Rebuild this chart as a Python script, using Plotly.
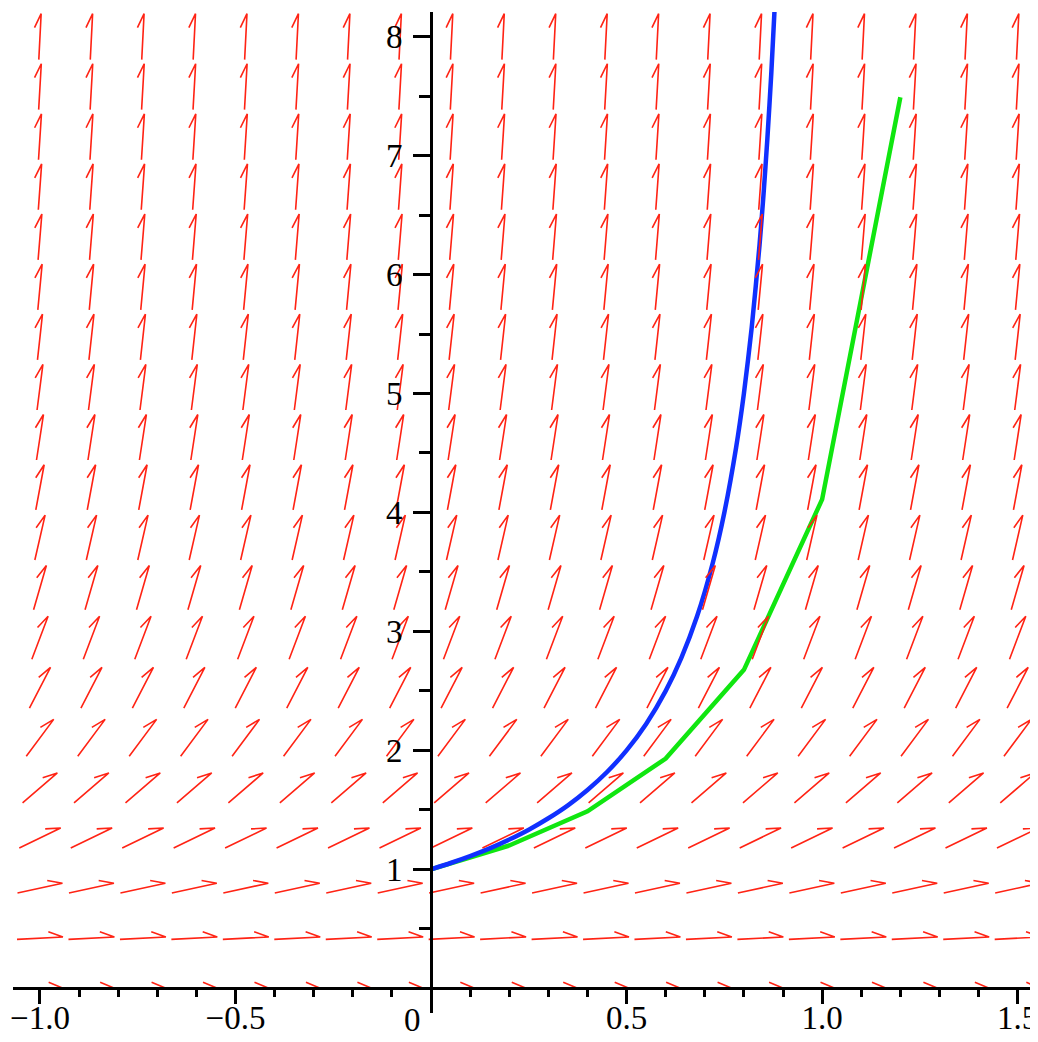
import math
import plotly.graph_objects as go

# ---------------- data ----------------
# direction-field grid (20 x 20)
field_x = [-1.0, -0.8684, -0.7368, -0.6053, -0.4737, -0.3421, -0.2105, -0.0789,
           0.0526, 0.1842, 0.3158, 0.4474, 0.5789, 0.7105, 0.8421, 0.9737,
           1.1053, 1.2368, 1.3684, 1.5]
field_y = [0.0, 0.421, 0.842, 1.263, 1.684, 2.105, 2.526, 2.947, 3.368, 3.789,
           4.211, 4.632, 5.053, 5.474, 5.895, 6.316, 6.737, 7.158, 7.579, 8.0]
# slope of the arrows in each row (dy/dx)
row_slopes = [0.0, 0.177, 0.709, 1.596, 2.837, 4.432, 6.382, 8.687, 11.346, 14.36,
              17.73, 21.45, 25.53, 29.96, 34.75, 39.89, 45.38, 51.24, 57.44, 64.0]

# exact solution curve (blue)
exact_x = [0, 0.05, 0.1, 0.15, 0.2, 0.25, 0.3, 0.35, 0.4, 0.45, 0.5, 0.55, 0.6,
           0.64, 0.68, 0.72, 0.75, 0.78, 0.8, 0.82, 0.84, 0.85, 0.86, 0.87, 0.88]
exact_y = [1, 1.053, 1.111, 1.176, 1.25, 1.333, 1.429, 1.538, 1.667, 1.818, 2.0,
           2.222, 2.5, 2.778, 3.125, 3.571, 4.0, 4.545, 5.0, 5.556, 6.25, 6.667,
           7.143, 7.692, 8.333]

# Euler approximation (green)
euler_x = [0, 0.2, 0.4, 0.6, 0.8, 1.0, 1.2]
euler_y = [1, 1.2, 1.488, 1.931, 2.677, 4.11, 7.49]

# axis ticks
x_major = [-1.0, -0.5, 0.5, 1.0, 1.5]
x_major_text = ["\u22121.0", "\u22120.5", "0.5", "1.0", "1.5"]
x_minor = [-1.0, -0.9, -0.8, -0.7, -0.6, -0.4, -0.3, -0.2, -0.1, 0.1, 0.2, 0.3, 0.4,
           0.6, 0.7, 0.8, 0.9, 1.1, 1.2, 1.3, 1.4]
y_major = [1, 2, 3, 4, 5, 6, 7, 8]
y_minor = [0.5, 1.5, 2.5, 3.5, 4.5, 5.5, 6.5, 7.5]

# ---------------- layout geometry ----------------
# (the page body adds an 8 px offset, so the figure is sized to compensate)
W, H = 1030, 1034
ML, MR, MT, MB = 5, 0, 4, 29
xr = [-1.069, 1.552]
yr = [-0.208, 8.207]
plot_w = W - ML - MR
plot_h = H - MT - MB
sx = plot_w / (xr[1] - xr[0])   # px per x unit
sy = plot_h / (yr[1] - yr[0])   # px per y unit

ARROW_LEN = 46.0   # px
BARB_LEN = 15.5    # px
BARB_ANG = math.radians(22.5)

ax_, ay_ = [], []
for j, yc in enumerate(field_y):
    m = row_slopes[j]
    px, py = 1.0, m * sy / sx
    n = math.hypot(px, py)
    ux, uy = px / n, py / n
    # barb direction: reverse of shaft rotated clockwise
    bx = -ux * math.cos(-BARB_ANG) + uy * math.sin(-BARB_ANG)
    by = -ux * math.sin(-BARB_ANG) - uy * math.cos(-BARB_ANG)
    for xc in field_x:
        tx = xc - ux * ARROW_LEN / 2 / sx
        ty = yc - uy * ARROW_LEN / 2 / sy
        hx = xc + ux * ARROW_LEN / 2 / sx
        hy = yc + uy * ARROW_LEN / 2 / sy
        ex = hx + bx * BARB_LEN / sx
        ey = hy + by * BARB_LEN / sy
        ax_ += [tx, hx, ex, None]
        ay_ += [ty, hy, ey, None]

fig = go.Figure()
fig.add_trace(go.Scatter(x=euler_x, y=euler_y, mode="lines",
                         line=dict(color="rgb(16,230,16)", width=4.5), hoverinfo="skip"))
fig.add_trace(go.Scatter(x=exact_x, y=exact_y, mode="lines",
                         line=dict(color="rgb(16,48,255)", width=4.5, shape="spline",
                                   smoothing=0.6),
                         hoverinfo="skip"))
fig.add_trace(go.Scatter(x=ax_, y=ay_, mode="lines",
                         line=dict(color="rgb(255,35,20)", width=1.6), hoverinfo="skip"))

font = dict(family="Liberation Serif, Times New Roman, serif", size=33, color="black")

fig.update_layout(
    width=W, height=H,
    margin=dict(l=ML, r=MR, t=MT, b=MB, pad=0, autoexpand=False),
    paper_bgcolor="white", plot_bgcolor="white",
    showlegend=False,
    xaxis=dict(range=xr, showgrid=False, zeroline=False, showline=True,
               linecolor="black", linewidth=3, automargin=False,
               anchor="free", position=(0 - yr[0]) / (yr[1] - yr[0]),
               ticks="outside", ticklen=14, tickwidth=2.5, tickcolor="black",
               tickmode="array", tickvals=x_major, ticktext=x_major_text,
               tickfont=font, ticklabelstandoff=-15, ticklabeloverflow="allow",
               minor=dict(tickmode="array", tickvals=x_minor, ticks="outside",
                          ticklen=7, tickwidth=2.5, tickcolor="black")),
    yaxis=dict(range=yr, showgrid=False, zeroline=False, showline=True,
               linecolor="black", linewidth=3, automargin=False,
               anchor="free", position=(0 - xr[0]) / (xr[1] - xr[0]),
               ticks="outside", ticklen=17, tickwidth=2.5, tickcolor="black",
               tickmode="array", tickvals=y_major,
               ticktext=[str(v) for v in y_major],
               tickfont=font, ticklabelstandoff=4, ticklabeloverflow="allow",
               minor=dict(tickmode="array", tickvals=y_minor, ticks="outside",
                          ticklen=11, tickwidth=2.5, tickcolor="black")),
    annotations=[dict(x=-0.047, y=-0.007, xref="x", yref="paper", text="0",
                      showarrow=False, font=font, xanchor="center", yanchor="middle")],
)

fig.write_html("out.html")
